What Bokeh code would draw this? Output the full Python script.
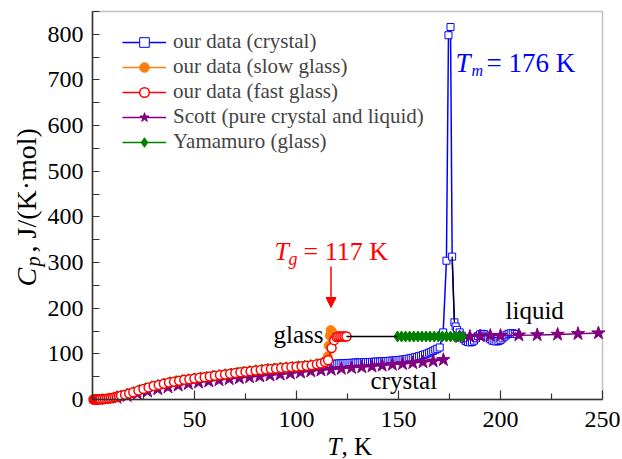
import math
from bokeh.plotting import figure
from bokeh.models import (Legend, LegendItem, Label, Arrow, NormalHead,
                          FixedTicker, Range1d, LinearAxis, BoxAnnotation)
from bokeh.embed import file_html
from bokeh.resources import INLINE

nan = float("nan")

# ---------------- data ----------------
# our data (crystal)
cryst_T = [3, 6, 9, 12, 15, 18, 21, 24, 27, 30, 35, 40, 45, 50, 55, 60, 65, 70, 75, 80,
           85, 90, 95, 100, 105, 110,
           113, 114, 115, 116, 117, 118, 119, 120, 121, 122, 123, 124, 125, 126, 127, 128,
           129, 130, 131, 132, 133, 134, 135, 136, 137, 138, 139, 140, 141, 142, 143, 144,
           145, 146, 147, 148, 149, 150, 151, 152, 153, 154, 155, 156, 157, 158, 159, 160,
           161, 162, 163, 164, 165, 166, 167, 168, 169, 170.2, 171.9,
           173.5, 174.5, 175.5, 176.3, 177.4, 178, 178.7,
           180, 181, 182, 183, 184, 185, 186, 187, 188, 189, 190, 191, 192, 193, 194, 195,
           196, 197, 198, 199, 200, 201, 202, 203, 204, 205, 206, 207, 208]
cryst_Cp = [0.2, 1, 2.8, 5.5, 9, 12.5, 16.5, 20.5, 24.5, 28, 33.5, 38, 41.5, 44.5, 47.5, 50,
            53, 56, 58.5, 61.5, 63.5, 66, 68, 70, 72, 75,
            76.5, 77, 77, 77.5, 78, 78, 78.5, 78.5, 79, 79, 79.5, 79.5, 80, 80, 80.5, 80.5,
            81, 81, 81, 81.5, 81.5, 82, 82, 82, 82.5, 82.5, 83, 83, 83.5, 83.5, 84, 84,
            84.5, 85, 85, 85.5, 86, 86.5, 87, 87.5, 88, 89, 89.5, 90.5, 91.5, 92.5, 93.5, 95,
            96, 97.5, 99, 100.5, 102.5, 104.5, 106.5, 109, 111, 114, 147,
            304, 798, 816, 313, 169, 160, 152.5,
            147, 140, 132, 128, 126, 125, 126, 129, 134, 139, 143, 144, 143, 140, 136, 132,
            129, 128, 127, 128, 130, 134, 138, 142, 144, 145, 145, 144, 143]

# our data (slow glass)
slow_T = [2, 5, 10, 15, 20, 25, 30, 35, 40, 45, 50, 55, 60, 65, 70, 75, 80, 85, 90, 95,
          100, 105, 110, 113, 114.5, 115.3, 115.8, 116.3, 116.7, 117.2, 117.8, 118.5,
          119.5, 120.5, 121.5, 122.5, 123.5, 124.5]
slow_Cp = [0.1, 0.8, 3.8, 9, 16, 23, 29.5, 34.5, 39, 43, 46, 49, 52, 55, 58, 61, 63.5, 66,
           68, 70, 72, 74, 77, 80, 84, 95, 118, 140, 152, 150, 145, 141,
           139, 138, 138, 138, 138, 138]

# our data (fast glass)
fast_T = [0.5, 1, 1.5, 2, 2.5, 3, 3.5, 4, 5, 6, 7, 8, 9, 10, 11, 12, 13, 14, 16, 18, 20,
          22.5, 25, 27.5, 30, 32.5, 35, 37.5, 40, 42.5, 45, 47.5, 50, 52.5, 55, 57.5, 60,
          62.5, 65, 67.5, 70, 72.5, 75, 77.5, 80, 82.5, 85, 87.5, 90, 92.5, 95, 97.5, 100,
          102.5, 105, 107.5, 110, 112, 114, 115.5, 117.2, 118.5, 119.6, 120.5, 121.5,
          122.5, 123.5, 124.5]
fast_Cp = [0, 0, 0, 0.1, 0.2, 0.3, 0.4, 0.5, 0.8, 1.2, 1.7, 2.3, 3, 3.8, 4.7, 5.7, 6.8, 8,
           10.5, 13, 16, 19.5, 23, 26.5, 29.5, 32, 34.5, 37, 39, 41, 43, 44.5, 46, 47.5, 49,
           50.5, 52, 53.5, 55, 56.5, 58, 59.5, 61, 62, 63.5, 64.5, 66, 67, 68, 69, 70, 71, 72,
           73, 74, 75, 77, 79, 82, 86, 113, 130, 137, 138, 138, 138, 138, 138]

# Scott (pure crystal and liquid)
scott_cr_T = [12, 17, 22, 27, 32, 37, 42, 47, 52, 57, 62, 67, 72, 77, 82, 87, 92, 97, 102,
              107, 112, 117, 122, 127, 132, 137, 142, 147, 152, 157, 162, 167, 172]
scott_cr_Cp = [4, 8, 13, 18, 23, 27, 31, 34.5, 37.5, 40, 42.5, 45, 47, 49, 51, 53, 55, 57,
               59.5, 62, 64, 65.5, 67.5, 69.5, 71, 72.5, 74.5, 76.5, 78, 80, 82, 84, 87]
scott_liq_T = [180, 185, 190, 195, 200, 209, 218, 228, 238, 248]
scott_liq_Cp = [137, 138, 139, 140, 140, 141, 141.5, 142.5, 144, 145.5]

# Yamamuro (glass)
yam_gl_T = [5, 8, 11, 14, 17, 20, 23, 26, 29, 32, 35, 38, 41, 44, 47, 50, 53, 56, 59, 62,
            65, 68, 71, 74, 77, 80, 83, 86, 89, 92, 95, 98, 101, 104, 107, 110, 113]
yam_gl_Cp = [1, 2.5, 5, 8.5, 12.5, 16.5, 21, 25, 29, 32, 35, 38, 40.5, 42.5, 44.5, 46.5,
             48.5, 50, 52, 53.5, 55.5, 57, 59, 60.5, 62.5, 64, 65.5, 67, 68, 69.5, 70.5,
             71.5, 73, 74, 75.5, 77.5, 81]
yam_liq_T = [149.5, 151.5, 153.5, 155.5, 157.5, 159.5, 161.5, 163.5, 165.5, 167.5, 169.5,
             171.5, 173.5, 175.5, 177.5, 179.5, 181.5]
yam_liq_Cp = [138, 138, 138, 138, 138, 138, 138, 138, 138, 138, 138, 138, 138, 138, 138,
              138, 138]

# black guide segments
guide_T = [124.5, 149.5, nan, 176.3, 177.4]
guide_Cp = [138, 138, nan, 313, 169]

x_ticks = [50, 100, 150, 200, 250]
x_minor = [25, 75, 125, 175, 225]
y_ticks = [0, 100, 200, 300, 400, 500, 600, 700, 800]
y_minor = [50, 150, 250, 350, 450, 550, 650, 750, 850]

# ---------------- style / geometry ----------------
BLUE = "#0000ff"
ORANGE = "#ff7f0e"
RED = "#ff0000"
PURPLE = "#800080"
GREEN = "#008000"
FONT = "Liberation Serif"
AXC = "#333333"

W, H = 622, 459
X_LO, X_HI = 0, 250          # plotted T range
Y_LO, Y_HI = 0, 850          # plotted Cp range
AX_L, AX_R = 92, 602         # pixel columns of T = 0 and T = 250
AX_B, AX_T = 399, 11         # pixel rows of Cp = 0 and Cp = 850
SX = (AX_R - AX_L) / (X_HI - X_LO)
SY = (AX_B - AX_T) / (Y_HI - Y_LO)


def dx(px):
    return X_LO + (px - AX_L) / SX


def dy(py):
    return Y_LO + (AX_B - py) / SY


p = figure(width=W, height=H, title=None,
           x_range=Range1d(dx(0), dx(W)), y_range=Range1d(dy(H), dy(0)),
           x_axis_location=None, y_axis_location=None,
           output_backend="svg", toolbar_location=None,
           min_border=0, min_border_left=0, min_border_right=0,
           min_border_top=0, min_border_bottom=0)
p.xgrid.visible = False
p.ygrid.visible = False
p.outline_line_color = None
p.background_fill_color = "white"
p.border_fill_color = "white"

xax = LinearAxis(fixed_location=Y_LO, bounds=(X_LO, X_HI),
                 ticker=FixedTicker(ticks=x_ticks, minor_ticks=x_minor))
yax = LinearAxis(fixed_location=X_LO, bounds=(Y_LO, Y_HI),
                 ticker=FixedTicker(ticks=y_ticks, minor_ticks=y_minor))
for ax in (xax, yax):
    ax.axis_line_color = AXC
    ax.axis_line_width = 1.5
    ax.major_tick_line_color = AXC
    ax.minor_tick_line_color = AXC
    ax.major_tick_line_width = 1.2
    ax.minor_tick_line_width = 1.2
    ax.major_tick_out = 0
    ax.minor_tick_out = 0
    ax.major_label_text_font = FONT
    ax.major_label_text_font_size = "24px"
    ax.major_label_text_color = "black"
xax.major_tick_in = 9
xax.minor_tick_in = 6
yax.major_tick_in = 7
yax.minor_tick_in = 7
xax.major_label_standoff = 12
yax.major_label_standoff = 9
p.add_layout(xax, "below")
p.add_layout(yax, "left")

# plot-box outline (top and right edges)
p.add_layout(BoxAnnotation(left=X_LO, right=X_HI, bottom=Y_LO, top=Y_HI,
                           fill_alpha=0, line_color=AXC, line_width=1.5))

# ---------------- series ----------------
cr_line = p.line(cryst_T, cryst_Cp, line_color=BLUE, line_width=1.5)
cr_pts = p.scatter(cryst_T, cryst_Cp, marker="square", size=7, fill_color="white",
                   line_color=BLUE, line_width=1)

sc_T = scott_cr_T + [nan] + scott_liq_T
sc_Cp = scott_cr_Cp + [nan] + scott_liq_Cp
sc_line = p.line(sc_T, sc_Cp, line_color=PURPLE, line_width=1.5)
sc_pts = p.scatter(sc_T, sc_Cp, marker="star", size=14, fill_color=PURPLE,
                   line_color=PURPLE)

ym_T = yam_gl_T + [nan] + yam_liq_T
ym_Cp = yam_gl_Cp + [nan] + yam_liq_Cp
ym_line = p.line(ym_T, ym_Cp, line_color=GREEN, line_width=1.5)
ym_pts = p.scatter(ym_T, ym_Cp, marker="diamond", size=11, fill_color=GREEN,
                   line_color=GREEN)

sl_line = p.line(slow_T, slow_Cp, line_color=ORANGE, line_width=1.5)
sl_pts = p.scatter(slow_T, slow_Cp, marker="circle", size=9, fill_color=ORANGE,
                   line_color=ORANGE)

fa_line = p.line(fast_T, fast_Cp, line_color=RED, line_width=1.5)
fa_pts = p.scatter(fast_T, fast_Cp, marker="circle", size=9, fill_color="white",
                   line_color=RED, line_width=1.5)

p.line(guide_T, guide_Cp, line_color="black", line_width=1.3)

# ---------------- legend ----------------
legend = Legend(items=[
    LegendItem(label="our data (crystal)", renderers=[cr_line, cr_pts]),
    LegendItem(label="our data (slow glass)", renderers=[sl_line, sl_pts]),
    LegendItem(label="our data (fast glass)", renderers=[fa_line, fa_pts]),
    LegendItem(label="Scott (pure crystal and liquid)", renderers=[sc_line, sc_pts]),
    LegendItem(label="Yamamuro (glass)", renderers=[ym_line, ym_pts]),
], location=(122, H - 154), glyph_width=44, glyph_height=24, label_height=20,
    label_standoff=7, spacing=0, padding=0, margin=0,
    background_fill_alpha=0, border_line_alpha=0,
    label_text_font=FONT, label_text_font_size="21px")
p.add_layout(legend)


def lab(px, py, text, color="black", size="26px", style="normal", align="left", angle=0.0):
    p.add_layout(Label(x=dx(px), y=dy(py), text=text, text_color=color,
                       text_font=FONT, text_font_size=size, text_font_style=style,
                       text_align=align, text_baseline="alphabetic", angle=angle))


# T_m annotation
lab(455, 62, "T", BLUE, "27px", "italic")
lab(471, 70, "m", BLUE, "16px", "italic")
lab(486, 62, "= 176 K", BLUE, "27px")

# T_g annotation
lab(274, 251, "T", RED, "26px", "italic")
lab(288, 258, "g", RED, "18px", "italic")
lab(303, 251, "= 117 K", RED, "26px")
p.add_layout(Arrow(x_start=dx(330.5), y_start=dy(266), x_end=dx(330.5), y_end=dy(307),
                   line_color=RED, line_width=1.5,
                   end=NormalHead(size=10, fill_color=RED, line_color=RED)))

# phase labels
lab(323, 334, "glass", "black", "25px", align="right")
lab(370, 380, "crystal", "black", "25px")
lab(505, 310, "liquid", "black", "25px")

# axis titles
lab(327, 446, "T", "black", "25px", "italic")
lab(341, 446, ", K", "black", "25px")
lab(26, 286, "C", "black", "28px", "italic", angle=math.pi / 2)
lab(32, 266, "p", "black", "20px", "italic", angle=math.pi / 2)
lab(26, 252, ", J/(K·mol)", "black", "28px", angle=math.pi / 2)

open("out.html", "w").write(file_html(p, INLINE))
